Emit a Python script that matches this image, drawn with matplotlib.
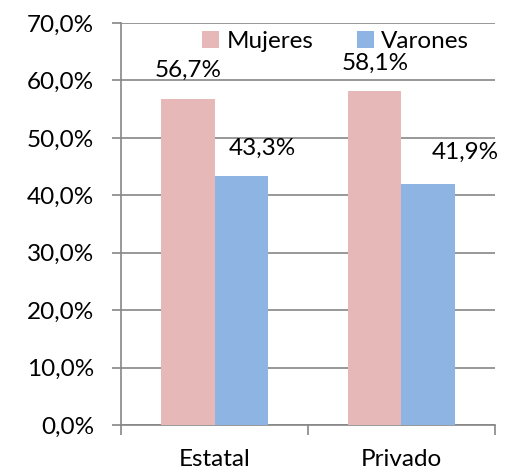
import matplotlib
matplotlib.use("Agg")
import matplotlib.pyplot as plt
import numpy as np

categories = ["Estatal", "Privado"]
mujeres = [56.7, 58.1]
varones = [43.3, 41.9]
series_names = ["Mujeres", "Varones"]
y_ticks = [0, 10, 20, 30, 40, 50, 60, 70]

plt.rcParams["font.family"] = ["Lato", "DejaVu Sans"]
FS = 17.5
grey = "#868686"
colors = ["#E6B9B8", "#8EB4E3"]

fig = plt.figure(figsize=(5.07, 4.75), dpi=100)
ax = fig.add_axes([0.2387, 0.1053, 0.7376, 0.8463])

x = np.arange(len(categories))
w = 0.286
b1 = ax.bar(x - w / 2, mujeres, w, color=colors[0], label=series_names[0], zorder=3)
b2 = ax.bar(x + w / 2, varones, w, color=colors[1], label=series_names[1], zorder=3)

ax.set_xlim(-0.5, 1.5)
ax.set_ylim(0, 70)
ax.set_yticks(y_ticks)
ax.set_yticklabels([f"{v:.1f}%".replace(".", ",") for v in y_ticks], fontsize=FS)
ax.yaxis.grid(True, color=grey, linewidth=1.2, zorder=0)

ax.set_xticks(x)
ax.set_xticklabels(categories, fontsize=FS)
ax.set_xticks([-0.5, 0.5, 1.5], minor=True)
ax.tick_params(axis="x", which="major", length=0, pad=17)
ax.tick_params(axis="x", which="minor", length=7, color=grey, width=1.2)
ax.tick_params(axis="y", length=6.5, color=grey, width=1.2, pad=13)

for s in ["top", "right"]:
    ax.spines[s].set_visible(False)
for s in ["left", "bottom"]:
    ax.spines[s].set_color(grey)
    ax.spines[s].set_linewidth(1.2)

def fmt(v):
    return f"{v:.1f}%".replace(".", ",")

# label offsets in points (as placed in the original)
offs_m = [(0, 21), (0, 20)]
offs_v = [(15, 20), (27, 23)]
for bars, vals, offs in [(b1, mujeres, offs_m), (b2, varones, offs_v)]:
    for r, v, o in zip(bars, vals, offs):
        ax.annotate(fmt(v), (r.get_x() + r.get_width() / 2, v), xytext=o,
                    textcoords="offset points", ha="center", va="center",
                    fontsize=FS, zorder=4)

leg = ax.legend(loc="upper center", bbox_to_anchor=(0.574, 1.01), ncol=2, frameon=False,
                fontsize=FS, handlelength=0.7, handleheight=0.7, handletextpad=0.3,
                columnspacing=1.8, borderaxespad=0.1)

fig.savefig("out.png", dpi=100)
